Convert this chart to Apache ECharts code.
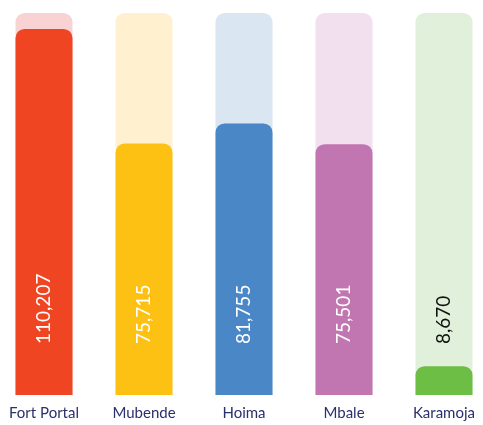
<!DOCTYPE html>
<html>
<head>
<meta charset="utf-8">
<script src="https://cdn.jsdelivr.net/npm/echarts@6/dist/echarts.min.js"></script>
<style>
  html, body { margin: 0; padding: 0; background: #ffffff; }
  #chart { width: 483px; height: 425px; }
</style>
</head>
<body>
<div id="chart"></div>
<script>
// Regions and their counts
const regions = ['Fort Portal', 'Mubende', 'Hoima', 'Mbale', 'Karamoja'];
const counts = [110207, 75715, 81755, 75501, 8670];
// Full-height track behind each bar
const trackMax = 115000;

const barColors = ['#F04523', '#FDC113', '#4A87C6', '#C176B1', '#6DBE45'];
const trackColors = ['#F9D3D3', '#FFF0D0', '#DAE6F2', '#F2E0EE', '#E1F0DA'];
const labelColors = ['#ffffff', '#ffffff', '#ffffff', '#ffffff', '#111111'];

const chart = echarts.init(document.getElementById('chart'));
const radius = [9, 9, 0, 0];

chart.setOption({
  animation: false,
  grid: { left: -6, width: 500, top: 13, bottom: 30, outerBoundsMode: 'none', containLabel: false },
  xAxis: {
    type: 'category',
    data: regions,
    axisLine: { show: false },
    axisTick: { show: false },
    axisLabel: {
      color: '#2B2F6B',
      fontFamily: 'Lato',
      fontSize: 15,
      margin: 11
    }
  },
  yAxis: {
    type: 'value',
    min: 0,
    max: trackMax,
    show: false
  },
  series: [
    {
      type: 'bar',
      barWidth: 57,
      barGap: '-100%',
      silent: true,
      data: regions.map((r, i) => ({
        value: trackMax,
        itemStyle: { color: trackColors[i], borderRadius: radius }
      }))
    },
    {
      type: 'bar',
      barWidth: 57,
      data: counts.map((v, i) => ({
        value: v,
        itemStyle: { color: barColors[i], borderRadius: radius },
        label: { color: labelColors[i] }
      })),
      label: {
        show: true,
        position: 'insideBottom',
        distance: 51,
        rotate: 90,
        align: 'left',
        verticalAlign: 'middle',
        fontFamily: 'Lato',
        fontSize: 19,
        formatter: p => p.value.toLocaleString('en-US')
      }
    }
  ]
});
</script>
</body>
</html>
